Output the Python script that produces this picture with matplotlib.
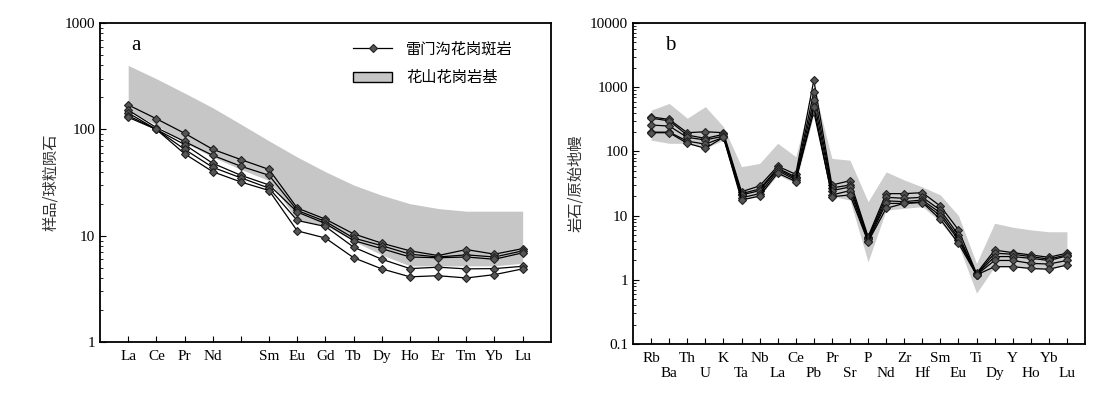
import numpy as np
import matplotlib.pyplot as plt
from matplotlib.lines import Line2D
from matplotlib.patches import Patch
from matplotlib.ticker import LogLocator, NullFormatter

plt.rcParams['font.family'] = ['Liberation Serif', 'Noto Sans CJK SC']
plt.rcParams['font.size'] = 11

# ---- panel a: chondrite-normalised REE ----
ree = ['La', 'Ce', 'Pr', 'Nd', '', 'Sm', 'Eu', 'Gd', 'Tb', 'Dy', 'Ho', 'Er', 'Tm', 'Yb', 'Lu']
ree_samples = [
    [170, 126, 92, 65, 52, 42, 18.2, 14.3, 10.4, 8.5, 7.2, 6.5, 7.4, 6.7, 7.55],
    [152, 104, 77, 57, 45, 37, 17.3, 13.6, 9.5, 8.05, 6.7, 6.3, 6.6, 6.3, 7.2],
    [143, 100, 72, 48, 37, 30, 16.7, 13.0, 9.0, 7.55, 6.3, 6.2, 6.3, 6.0, 6.9],
    [135, 100, 65, 44, 35, 28, 13.9, 12.2, 7.8, 6.0, 4.9, 5.05, 4.87, 4.9, 5.15],
    [130, 100, 59, 40, 32, 26.6, 11.1, 9.5, 6.2, 4.87, 4.1, 4.2, 4.0, 4.3, 4.87],
]
ree_band_hi = [400, 300, 220, 160, 112, 78, 55, 40, 30, 24, 20, 18, 17, 17, 17]
ree_band_lo = [150, 110, 75, 55, 42, 33, 14, 12.5, 8.9, 6.6, 5.2, 5.2, 5.2, 5.2, 5.5]

# ---- panel b: primitive-mantle-normalised spider diagram ----
spider = ['Rb', 'Ba', 'Th', 'U', 'K', 'Ta', 'Nb', 'La', 'Ce', 'Pb', 'Pr', 'Sr',
          'P', 'Nd', 'Zr', 'Hf', 'Sm', 'Eu', 'Ti', 'Dy', 'Y', 'Ho', 'Yb', 'Lu']
spider_samples = [
    [345, 316, 196, 203, 196, 23.6, 29, 59, 44, 1290, 30, 35, 4.7, 22, 22, 22.8, 14.1, 6.0, 1.26, 2.9, 2.65, 2.44, 2.24, 2.6],
    [330, 300, 180, 160, 185, 22, 26, 55, 40, 850, 27, 30, 4.5, 19.3, 18.6, 19.3, 12.2, 5.0, 1.22, 2.6, 2.5, 2.3, 2.1, 2.45],
    [258, 249, 166, 151, 173, 21, 24.5, 53, 38, 630, 24.5, 28, 4.3, 17, 16.5, 17.5, 11, 4.5, 1.2, 2.3, 2.3, 2.16, 2.0, 2.35],
    [200, 200, 145, 130, 166, 19, 22, 50, 36, 416, 21, 24.5, 4.0, 15.5, 15.5, 16.5, 9.9, 4.2, 1.19, 2.0, 2.0, 1.8, 1.76, 2.0],
    [196, 196, 134, 112, 166, 17.5, 20.2, 46, 34, 500, 19.7, 21, 3.9, 13, 15.5, 16, 8.75, 3.7, 1.19, 1.6, 1.6, 1.5, 1.46, 1.7],
]
spider_band_hi = [440, 560, 330, 500, 243, 58, 65, 134, 83, 1000, 78, 73, 16.5, 48, 36, 28, 21, 10, 1.8, 7.6, 6.6, 6.0, 5.6, 5.6]
spider_band_lo = [150, 134, 134, 112, 150, 17.5, 20, 43, 32, 380, 20, 17.5, 1.9, 12.2, 13, 13.8, 8, 3.5, 0.62, 1.6, 1.6, 1.5, 1.45, 1.7]

label_a = '雷门沟花岗斑岩'
label_band = '花山花岗岩基'

fig = plt.figure(figsize=(11.05, 3.99), dpi=100)
ax1 = fig.add_axes([0.0905, 0.143, 0.408, 0.799])
ax2 = fig.add_axes([0.5729, 0.138, 0.409, 0.804])

line_kw = dict(color='black', lw=0.9, marker='D', ms=4.5, mfc='#555555', mec='#222222', mew=0.8)

# panel a
xa = np.arange(1, len(ree) + 1)
ax1.fill_between(xa, ree_band_lo, ree_band_hi, color='#c6c6c6', lw=0)
for s in ree_samples:
    ax1.plot(xa, s, **line_kw)
ax1.set_yscale('log')
ax1.set_ylim(1, 1000)
ax1.set_xlim(0, 16)
ax1.set_xticks(xa)
ax1.set_xticklabels(ree)
ax1.set_yticks([1, 10, 100, 1000])
ax1.set_yticklabels(['1', '10', '100', '1000'])
ax1.set_ylabel('样品/球粒陨石', family=['Noto Sans CJK SC'], fontsize=11, color='#333333')
ax1.text(0.07, 0.93, 'a', transform=ax1.transAxes, fontsize=15, va='center')
handles = [Line2D([], [], **line_kw), Patch(facecolor='#c6c6c6', edgecolor='black', lw=1)]
ax1.legend(handles, [label_a, label_band], loc='upper left', bbox_to_anchor=(0.53, 0.99),
           frameon=False, prop={'family': ['Noto Sans CJK SC'], 'size': 11},
           handlelength=2.6, labelspacing=0.8, handletextpad=0.9)

# panel b
xb = np.arange(1, len(spider) + 1)
ax2.fill_between(xb, spider_band_lo, spider_band_hi, color='#cdcdcd', lw=0)
for s in spider_samples:
    ax2.plot(xb, s, **line_kw)
ax2.set_yscale('log')
ax2.set_ylim(0.1, 10000)
ax2.set_xlim(0, 25)
ax2.set_xticks(xb)
ax2.set_xticklabels([e if i % 2 == 0 else '\n' + e for i, e in enumerate(spider)])
ax2.set_yticks([0.1, 1, 10, 100, 1000, 10000])
ax2.set_yticklabels(['0.1', '1', '10', '100', '1000', '10000'])
ax2.set_ylabel('岩石/原始地幔', family=['Noto Sans CJK SC'], fontsize=11, color='#333333')
ax2.text(0.07, 0.93, 'b', transform=ax2.transAxes, fontsize=15, va='center')

for ax in (ax1, ax2):
    ax.yaxis.set_minor_locator(LogLocator(base=10, subs=np.arange(2, 10), numticks=20))
    ax.yaxis.set_minor_formatter(NullFormatter())
    ax.tick_params(axis='both', which='major', direction='in', length=4, width=0.8)
    ax.tick_params(axis='y', which='minor', direction='in', length=2, width=0.6)
    ax.tick_params(axis='x', pad=6)
    for sp in ax.spines.values():
        sp.set_linewidth(1.3)

fig.savefig('out.png', dpi=100)
